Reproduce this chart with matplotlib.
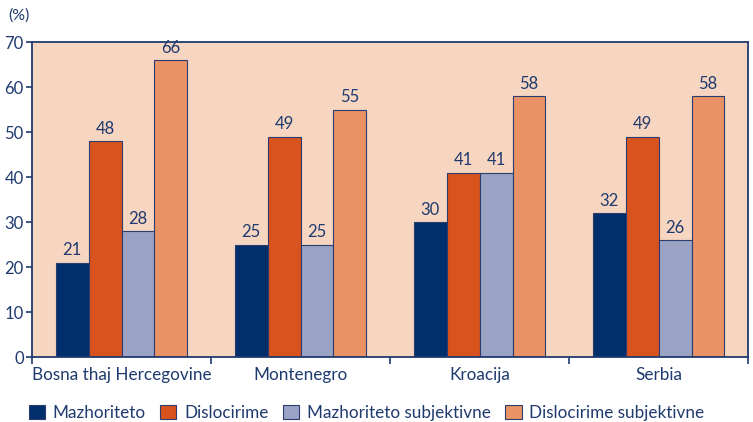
import numpy as np
import matplotlib.pyplot as plt
from matplotlib.patches import Patch

plt.rcParams['font.family'] = ['Lato', 'DejaVu Sans']

# Datos
vendet = ["Bosna thaj Hercegovine", "Montenegro", "Kroacija", "Serbia"]
seri = ["Mazhoriteto", "Dislocirime", "Mazhoriteto subjektivne", "Dislocirime subjektivne"]
mazhoriteto = [21, 25, 30, 32]
dislocirime = [48, 49, 41, 49]
mazh_subj = [28, 25, 41, 26]
disl_subj = [66, 55, 58, 58]

valores = [mazhoriteto, dislocirime, mazh_subj, disl_subj]
colores = ["#002f6c", "#d9531e", "#9ba3c4", "#e89265"]
navy = "#1f3a6e"

fig = plt.figure(figsize=(7.53, 4.22), dpi=100)
ax = fig.add_axes([0.0425, 0.154, 0.951, 0.746])
ax.set_facecolor("#f6d5c1")

x = np.arange(len(vendet))
w = 0.184
for i, (v, c) in enumerate(zip(valores, colores)):
    pos = x + (i - 1.5) * w
    ax.bar(pos, v, width=w, color=c, edgecolor="#2a3d6e", linewidth=0.8, zorder=2)
    for p, val in zip(pos, v):
        ax.text(p, val + 1.0, str(val), ha="center", va="bottom",
                fontsize=12, color=navy)

ax.set_xlim(-0.5, 3.5)
ax.set_ylim(0, 70)
ax.set_yticks(range(0, 71, 10))

# ticks en los bordes de grupo, etiquetas centradas
ax.set_xticks(np.arange(-0.5, 4, 1))
ax.set_xticklabels([])
ax.set_xticks(x, minor=True)
ax.set_xticklabels(vendet, minor=True)
ax.tick_params(axis="x", which="minor", length=0, pad=7, labelsize=12.3, labelcolor=navy)
ax.tick_params(axis="x", which="major", length=5, width=1.2, color=navy)
ax.tick_params(axis="y", length=4, width=1.2, color=navy, labelsize=12, labelcolor=navy, pad=2)

for s in ax.spines.values():
    s.set_color(navy)
    s.set_linewidth(1.3)

fig.text(0.011, 0.963, "(%)", fontsize=11.5, color=navy, ha="left", va="center")

handles = [Patch(facecolor=c, edgecolor="#2a3d6e", linewidth=0.8) for c in colores]
fig.legend(handles, seri, loc="center left", bbox_to_anchor=(0.038, 0.022), ncol=4,
           frameon=False, fontsize=12.3, labelcolor="#1f3a6e", handlelength=0.95,
           handleheight=0.95, handletextpad=0.45, columnspacing=0.85, borderaxespad=0,
           borderpad=0)

fig.savefig("out.png", dpi=100)
